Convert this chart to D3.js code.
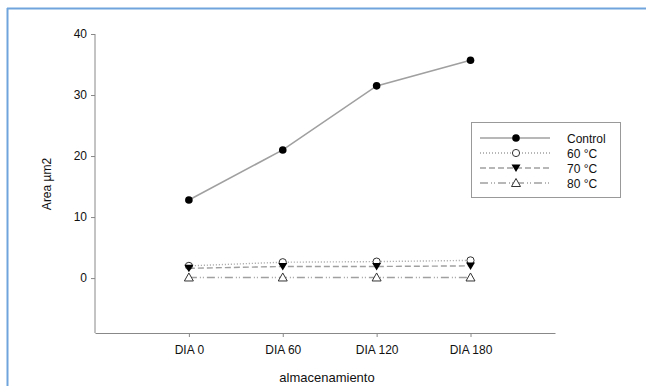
<!DOCTYPE html>
<html><head><meta charset="utf-8">
<script src="https://cdn.jsdelivr.net/npm/d3@7"></script>
<style>body{margin:0;background:#fff}svg{display:block}text{font-family:"Liberation Sans",Arial,sans-serif;fill:#111}</style>
</head><body><svg id="c" width="646" height="386"></svg>
<script>
const categories = ["DIA 0","DIA 60","DIA 120","DIA 180"];
const control = [12.8, 21.0, 31.5, 35.7];
const c60 = [2.0, 2.6, 2.7, 2.9];
const c70 = [1.6, 1.9, 1.9, 2.0];
const c80 = [0.1, 0.1, 0.1, 0.1];
const seriesNames = ["Control","60 °C","70 °C","80 °C"];
const yTicks = [0,10,20,30,40];

const svg = d3.select("#c");
// blue frame
svg.append("line").attr("x1",7).attr("x2",646).attr("y1",8.5).attr("y2",8.5).attr("stroke","#6fa5dc").attr("stroke-width",2);
svg.append("line").attr("x1",7.5).attr("x2",7.5).attr("y1",8).attr("y2",386).attr("stroke","#6fa5dc").attr("stroke-width",2);

const x = d3.scaleLinear().domain([-1, 3.9]).range([95, 555]);
const y = d3.scaleLinear().domain([-9, 40]).range([333, 34]);
const axisCol = "#888";

const ya = svg.append("g").attr("transform","translate(95,0)")
  .call(d3.axisLeft(y).tickValues(yTicks).tickSize(4).tickSizeOuter(0).tickPadding(4));
ya.select(".domain").attr("stroke",axisCol).attr("d", `M0,${y(40)}V${y(-9)}`);
ya.selectAll(".tick line").attr("stroke",axisCol);
ya.selectAll(".tick text").attr("font-size",12).attr("font-family","Liberation Sans, Arial").attr("fill","#111");

const xa = svg.append("g").attr("transform","translate(0,333)")
  .call(d3.axisBottom(x).tickValues([0,1,2,3]).tickFormat(i=>categories[i]).tickSize(4).tickSizeOuter(0).tickPadding(8));
xa.select(".domain").attr("stroke",axisCol);
xa.selectAll(".tick line").attr("stroke",axisCol);
xa.selectAll(".tick text").attr("font-size",12).attr("font-family","Liberation Sans, Arial").attr("fill","#111");

svg.append("text").attr("x",327).attr("y",382).attr("text-anchor","middle").attr("font-size",13).text("almacenamiento");
svg.append("text").attr("transform","translate(51,184) rotate(-90)").attr("text-anchor","middle").attr("font-size",12).text("Area µm2");

const series = [
  {name:seriesNames[0], vals:control, dash:null, marker:"filled"},
  {name:seriesNames[1], vals:c60, dash:"1,2", marker:"open"},
  {name:seriesNames[2], vals:c70, dash:"6,3", marker:"tri"},
  {name:seriesNames[3], vals:c80, dash:"8,3,1,2,1,3", marker:"opentri"}
];
const lineCol = "#a0a0a0";
function drawMarker(g, type, cx, cy){
  if(type==="filled") g.append("circle").attr("cx",cx).attr("cy",cy).attr("r",3.8).attr("fill","#000");
  else if(type==="open") g.append("circle").attr("cx",cx).attr("cy",cy).attr("r",3.6).attr("fill","#fff").attr("stroke","#333").attr("stroke-width",1);
  else if(type==="tri") g.append("path").attr("d",`M${cx-4.5},${cy-3.5}L${cx+4.5},${cy-3.5}L${cx},${cy+4}Z`).attr("fill","#000");
  else g.append("path").attr("d",`M${cx},${cy-4.5}L${cx+4.5},${cy+3.5}L${cx-4.5},${cy+3.5}Z`).attr("fill","#fff").attr("stroke","#333").attr("stroke-width",1);
}
const line = d3.line().x((d,i)=>x(i)).y(d=>y(d));
// draw lines order: back to front
[3,2,1,0].forEach(k=>{
  const s = series[k];
  svg.append("path").attr("d",line(s.vals)).attr("fill","none").attr("stroke",lineCol)
    .attr("stroke-width",s.dash?1.4:1.6).attr("stroke-dasharray",s.dash);
});
[3,1,2,0].forEach(k=>{
  const s = series[k];
  const g = svg.append("g");
  s.vals.forEach((v,i)=>drawMarker(g, s.marker, x(i), y(v)));
});

// legend
const lg = svg.append("g");
lg.append("rect").attr("x",471.5).attr("y",122.5).attr("width",149).attr("height",75).attr("fill","#fff").attr("stroke","#999");
series.forEach((s,i)=>{
  const yy = 138 + i*15;
  lg.append("line").attr("x1",480).attr("x2",550).attr("y1",yy).attr("y2",yy).attr("stroke",lineCol).attr("stroke-width",s.dash?1.4:1.6).attr("stroke-dasharray",s.dash);
  drawMarker(lg, s.marker, 516, yy);
  lg.append("text").attr("x",567).attr("y",yy+4.5).attr("font-size",12).text(s.name);
});
</script></body></html>
